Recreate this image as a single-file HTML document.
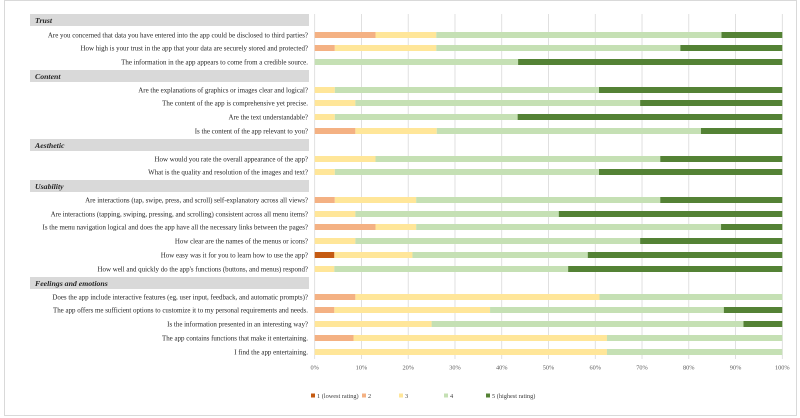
<!DOCTYPE html>
<html><head><meta charset="utf-8"><style>
body{margin:0;background:#fff}
svg{display:block;font-family:"Liberation Serif",serif}
</style></head><body>
<svg id="c" width="800" height="418">
<rect x="4.5" y="0.5" width="792" height="415" fill="#fff" stroke="#d9d9d9"/>
<g id="grid"></g><g id="rows"></g><g id="ticks"></g><g id="legend"></g>
</svg>
<script>
const categories=["Trust","Content","Aesthetic","Usability","Feelings and emotions"];
const questions=[
["Are you concerned that data you have entered into the app could be disclosed to third parties?","How high is your trust in the app that your data are securely stored and protected?","The information in the app appears to come from a credible source."],
["Are the explanations of graphics or images clear and logical?","The content of the app is comprehensive yet precise.","Are the text understandable?","Is the content of the app relevant to you?"],
["How would you rate the overall appearance of the app?","What is the quality and resolution of the images and text?"],
["Are interactions (tap, swipe, press, and scroll) self-explanatory across all views?","Are interactions (tapping, swiping, pressing, and scrolling) consistent across all menu items?","Is the menu navigation logical and does the app have all the necessary links between the pages?","How clear are the names of the menus or icons?","How easy was it for you to learn how to use the app?","How well and quickly do the app's functions (buttons, and menus) respond?"],
["Does the app include interactive features (eg, user input, feedback, and automatic prompts)?","The app offers me sufficient options to customize it to my personal requirements and needs.","Is the information presented in an interesting way?","The app contains functions that make it entertaining.","I find the app entertaining."]];
const rating1=[0,0,0, 0,0,0,0, 0,0, 0,0,0,0,4.2,0, 0,0,0,0,0];
const rating2=[13,4.3,0, 0,0,0,8.7, 0,0, 4.3,0,13,0,0,0, 8.7,4.2,0,8.3,0];
const rating3=[13,21.7,0, 4.3,8.7,4.3,17.4, 13,4.3, 17.4,8.7,8.7,8.7,16.7,4.2, 52.2,33.3,25,54.2,62.5];
const rating4=[61,52.2,43.5, 56.5,60.9,39.1,56.5, 60.9,56.5, 52.2,43.5,65.2,60.9,37.5,50, 39.1,50,66.7,37.5,37.5];
const rating5=[13,21.8,56.5, 39.2,30.4,56.6,17.4, 26.1,39.2, 26.1,47.8,13.1,30.4,41.6,45.8, 0,12.5,8.3,0,0];
const tickLabels=["0%","10%","20%","30%","40%","50%","60%","70%","80%","90%","100%"];
const legendLabels=["1 (lowest rating)","2","3","4","5 (highest rating)"];
const colors=["#c55a11","#f4b183","#ffe699","#c5e0b4","#548235"];
const NS="http://www.w3.org/2000/svg";
const X0=314.7,X1=782.3;
const xs=v=>X0+(X1-X0)*v/100;
function mk(p,tag,a,t){const e=document.createElementNS(NS,tag);for(const k in a)e.setAttribute(k,a[k]);if(t!=null)e.textContent=t;p.appendChild(e);return e;}
const grid=document.getElementById('grid'),rows=document.getElementById('rows'),ticks=document.getElementById('ticks'),leg=document.getElementById('legend');
tickLabels.forEach((t,i)=>{const v=i*10;
 const l=mk(grid,'line',{x1:xs(v),x2:xs(v),y1:14,y2:359,stroke:'#d9d9d9','stroke-width':0.8});
 
 
 const tx=mk(ticks,'text',{x:xs(v),y:369.5,'font-size':6.3,fill:'#595959','text-anchor':'middle'},t);
 
 
});
const series=[rating1,rating2,rating3,rating4,rating5];
const headerY=[20,76,145,186,283];
const rowY=[[35,48,62],[90,103,117,131],[159,172],[200,214,227,241,255,269],[297,310,324,338,352]];
let qi=0;
categories.forEach((c,ci)=>{
 const hy=headerY[ci];
 const hr=mk(rows,'rect',{x:30,y:hy-6,width:279,height:12,fill:'#d9d9d9'});
 
 
 const ht=mk(rows,'text',{x:35,y:hy+3,'font-size':7.8,'font-weight':'bold','font-style':'italic',fill:'#262626'},c);
 
 
 questions[ci].forEach((q,j)=>{
  const y=rowY[ci][j];
  const lt=mk(rows,'text',{x:308,y:y+2.5,'font-size':6.95,fill:'#262626','text-anchor':'end'},q);
  
  
  let acc=0;
  series.forEach((s,si)=>{const v=s[qi];if(v>0){
   const b=mk(rows,'rect',{x:xs(acc),y:y-3,width:xs(acc+v)-xs(acc),height:6,fill:colors[si]});
   
   
  }acc+=v;});
  qi++;
 });
});
const lx=[311,362,399,444,486];
legendLabels.forEach((t,i)=>{
 const r=mk(leg,'rect',{x:lx[i],y:393.5,width:4,height:4,fill:colors[i]});
 
 
 const tx=mk(leg,'text',{x:lx[i]+6,y:398,'font-size':6.3,fill:'#404040'},t);
 
 
});
</script>
</body></html>
